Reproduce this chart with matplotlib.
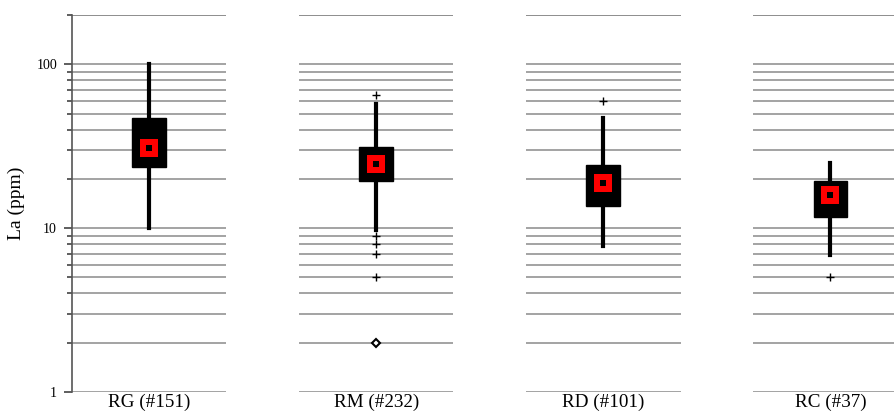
import numpy as np
import matplotlib
matplotlib.use("Agg")
import matplotlib.pyplot as plt

# Dados
grupos = ['RG (#151)', 'RM (#232)', 'RD (#101)', 'RC (#37)']
q1 = [23.5, 19.4, 13.6, 11.7]
q3 = [47, 31.5, 24.3, 19.3]
media = [30.7, 24.8, 18.9, 16]
whis_baixo = [10, 9.8, 7.8, 6.9]
whis_alto = [100, 57, 47, 25]
outliers = [[], [65, 9, 8, 7, 5], [60], [5]]
extremos = [[], [2], [], []]

plt.rcParams['font.family'] = ['Liberation Serif', 'DejaVu Serif']

fig = plt.figure(figsize=(8.94, 4.12), dpi=100)
ax = fig.add_axes([72 / 894, 20 / 412, 1 - 72 / 894, 1 - 35 / 412])

pos = np.arange(len(grupos))
meia = 0.34

# linhas de grade em segmentos, uma por grupo
niveis = [v * d for d in (1, 10, 100) for v in range(1, 10)] + [200]
for p in pos:
    ax.hlines(niveis, p - meia, p + meia, color='#8a8a8a', lw=1.1, zorder=1)

stats = []
for i in range(len(grupos)):
    stats.append({'med': media[i], 'q1': q1[i], 'q3': q3[i],
                  'whislo': whis_baixo[i], 'whishi': whis_alto[i],
                  'fliers': outliers[i], 'mean': media[i]})

ax.bxp(stats, positions=pos, widths=0.149, patch_artist=True,
       showcaps=False, showmeans=False,
       boxprops=dict(facecolor='black', edgecolor='black', lw=1),
       whiskerprops=dict(color='black', lw=3),
       medianprops=dict(lw=0),
       flierprops=dict(marker='+', markersize=6, markeredgecolor='black',
                       markeredgewidth=1, linestyle='none'),
       zorder=3)

# media: quadrado vermelho com centro preto
ax.plot(pos, media, 's', color='red', markersize=13, markeredgewidth=0, zorder=4)
ax.plot(pos, media, 's', color='black', markersize=4.8, markeredgewidth=0, zorder=5)

for i, ext in enumerate(extremos):
    if ext:
        ax.plot([pos[i]] * len(ext), ext, 'D', markerfacecolor='white',
                markeredgecolor='black', markeredgewidth=1.5, markersize=4.5, zorder=4)

ax.set_yscale('log')
ax.set_ylim(1, 200)
ax.set_xlim(-meia, 3.28)
ax.set_yticks([1, 10, 100])
ax.set_yticklabels(['1', '10', '100'], fontsize=10)
ax.yaxis.set_minor_locator(matplotlib.ticker.LogLocator(subs=np.arange(2, 10)))
ax.yaxis.set_minor_formatter(matplotlib.ticker.NullFormatter())
ax.tick_params(axis='y', which='major', direction='out', length=5.8, width=1.1,
               color='#333333', pad=5)
ax.tick_params(axis='y', which='minor', direction='out', length=3.6, width=1.1,
               color='#333333')
ax.set_xticks(pos)
ax.set_xticklabels(grupos, fontsize=13.8)
ax.tick_params(axis='x', length=0, pad=1)
ax.set_ylabel('La (ppm)', fontsize=14, labelpad=8)

for s in ['top', 'right', 'bottom']:
    ax.spines[s].set_visible(False)
ax.spines['left'].set_color('#555555')
ax.spines['left'].set_linewidth(1.2)

fig.savefig('out.png', dpi=100)
